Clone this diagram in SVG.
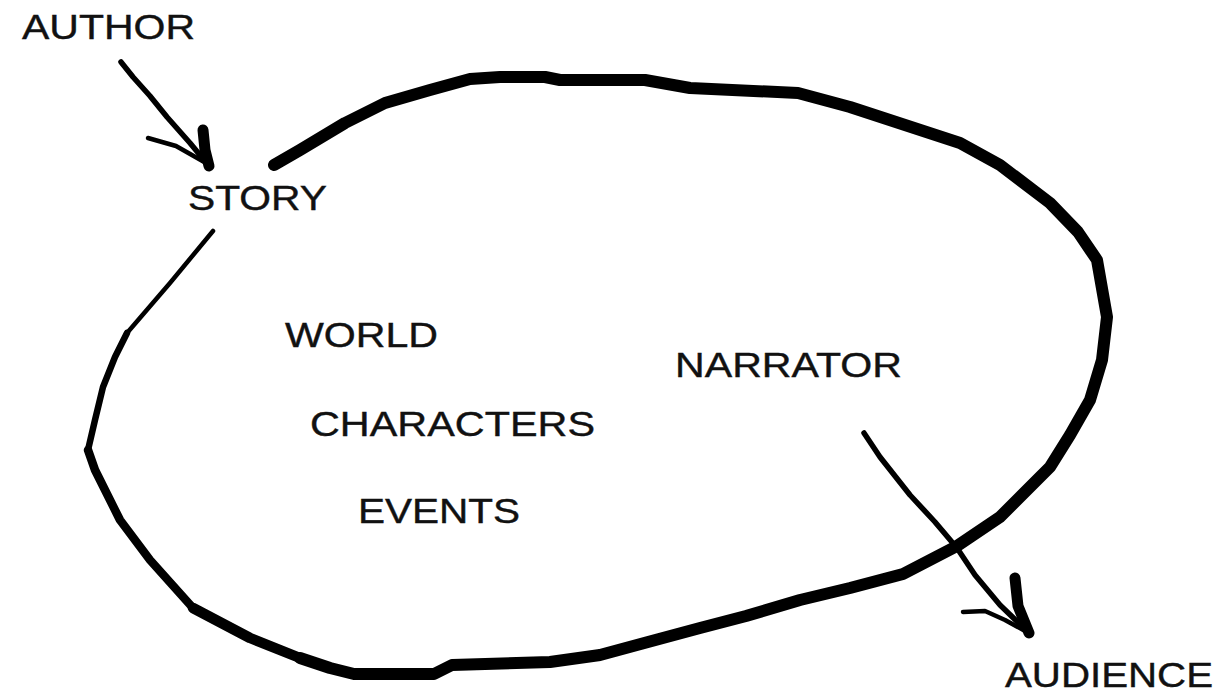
<svg xmlns="http://www.w3.org/2000/svg" width="1223" height="693" viewBox="0 0 1223 693">
<style>
  .lbl { font-family: "Liberation Sans", Arial, sans-serif; font-size: 35px; fill: #111; stroke: #111; stroke-width: 0.4; }
  .ink { fill: none; stroke: #000; stroke-linecap: round; stroke-linejoin: round; }
</style>
<rect width="1223" height="693" fill="#fff"/>
<g id="connectors">
  <!-- story loop -->
  <path class="ink" stroke-width="12" d="M274,165 L300,150 L345,123 L385,103 L430,90 L470,79 L500,77 L545,77 L560,80 L645,80 L690,88 L798,93 L850,107 L960,143 L1000,165 L1050,203 L1078,232 L1097,260 L1107,317 L1102,360 L1090,400 L1070,435 L1050,467 L1020,497 L1000,517 L957,546 L903,574 L850,588 L800,600 L746,616 L700,628 L648,642 L600,655 L550,662 L452,665 L434,674 L354,674 L330,668 L300,658"/>
  <path class="ink" stroke-width="10.5" d="M300,658 L250,638 L193,608"/>
  <path class="ink" stroke-width="8.5" d="M193,608 L150,560 L120,520 L95,470 L88,450"/>
  <path class="ink" stroke-width="6.5" d="M88,450 L95,420 L103,387 L115,357 L127,333"/>
  <path class="ink" stroke-width="4.5" d="M127,333 L170,283 L213,231"/>
  <!-- author arrow -->
  <path class="ink" stroke-width="5.5" d="M121,62 L133,77 L150,96 L167,117 L190,143 L209,166"/>
  <path class="ink" stroke-width="11" d="M203,130 L205,150 L209,166"/>
  <path class="ink" stroke-width="4.5" d="M148,138 L176,146 L206,163"/>
  <!-- narrator arrow -->
  <path class="ink" stroke-width="5.5" d="M864,433 L880,457 L910,495 L935,522 L957,548 L975,575 L1000,605 L1029,633"/>
  <path class="ink" stroke-width="11" d="M1015,578 L1018,606 L1029,633"/>
  <path class="ink" stroke-width="4.5" d="M963,612 L985,611 L1005,620 L1027,632"/>
</g>
<g id="author"><text class="lbl" x="22" y="39" textLength="173" lengthAdjust="spacingAndGlyphs">AUTHOR</text></g>
<g id="story"><text class="lbl" x="188" y="210" textLength="139" lengthAdjust="spacingAndGlyphs">STORY</text></g>
<g id="world"><text class="lbl" x="285" y="347" textLength="153" lengthAdjust="spacingAndGlyphs">WORLD</text></g>
<g id="characters"><text class="lbl" x="310" y="436" textLength="285" lengthAdjust="spacingAndGlyphs">CHARACTERS</text></g>
<g id="events"><text class="lbl" x="358" y="523" textLength="162" lengthAdjust="spacingAndGlyphs">EVENTS</text></g>
<g id="narrator"><text class="lbl" x="675" y="377" textLength="227" lengthAdjust="spacingAndGlyphs">NARRATOR</text></g>
<g id="audience"><text class="lbl" x="1005" y="687" textLength="208" lengthAdjust="spacingAndGlyphs">AUDIENCE</text></g>
</svg>
